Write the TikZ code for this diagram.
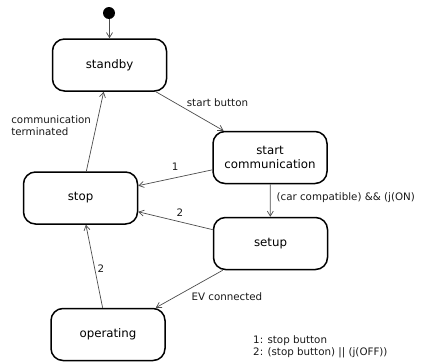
\documentclass[tikz,border=0pt]{standalone}
\usepackage{fontspec}
\setmainfont{DejaVu Sans}
\usetikzlibrary{arrows.meta}
\begin{document}
\begin{tikzpicture}[x=1pt,y=-1pt,
  state/.style={draw,line width=1.5pt,rounded corners=12pt,minimum width=114pt,minimum height=52pt,align=center,font=\fontsize{11.8}{14}\selectfont,inner sep=2pt},
  trans/.style={draw=black!70,line width=0.7pt,-{Straight Barb[length=5pt,width=6pt]}},
  lbl/.style={font=\fontsize{10.3}{12.6}\selectfont,inner sep=1pt,text=black!90}]
\useasboundingbox (0,0) rectangle (421,362);
\fill (109,13) circle (6pt) coordinate (init);
\node[state] (standby) at (109.5,65) {standby};
\node[state] (comm) at (270,157.5) {start\\communication};
\node[state] (stop) at (80.5,198) {stop};
\node[state] (setup) at (270.5,243.5) {setup};
\node[state] (oper) at (108,334.5) {operating};
\coordinate (initb) at (109.5,19);
\draw[trans] (initb) -- (standby);
\draw[trans] (standby) -- node[lbl,pos=0.275,right=11pt] {start button} (comm);
\draw[trans] (stop) -- node[lbl,pos=0.575,left=4pt,align=left] {communication\\terminated} (standby);
\draw[trans] (comm) -- node[lbl,pos=0.5,above=6pt] {1} (stop);
\draw[trans] (comm) -- node[lbl,pos=0.41,right=5pt] {(car compatible) \&\& (j(ON)} (setup);
\draw[trans] (setup) -- node[lbl,pos=0.44,above=4pt] {2} (stop);
\draw[trans] (setup) -- node[lbl,pos=0.71,right=15pt] {EV connected} (oper);
\draw[trans] (oper) -- node[lbl,pos=0.476,right=1.5pt] {2} (stop);
\node[lbl,align=left,anchor=north west] (legend) at (252,334) {1: stop button\\2: (stop button) || (j(OFF))};
\end{tikzpicture}
\end{document}
